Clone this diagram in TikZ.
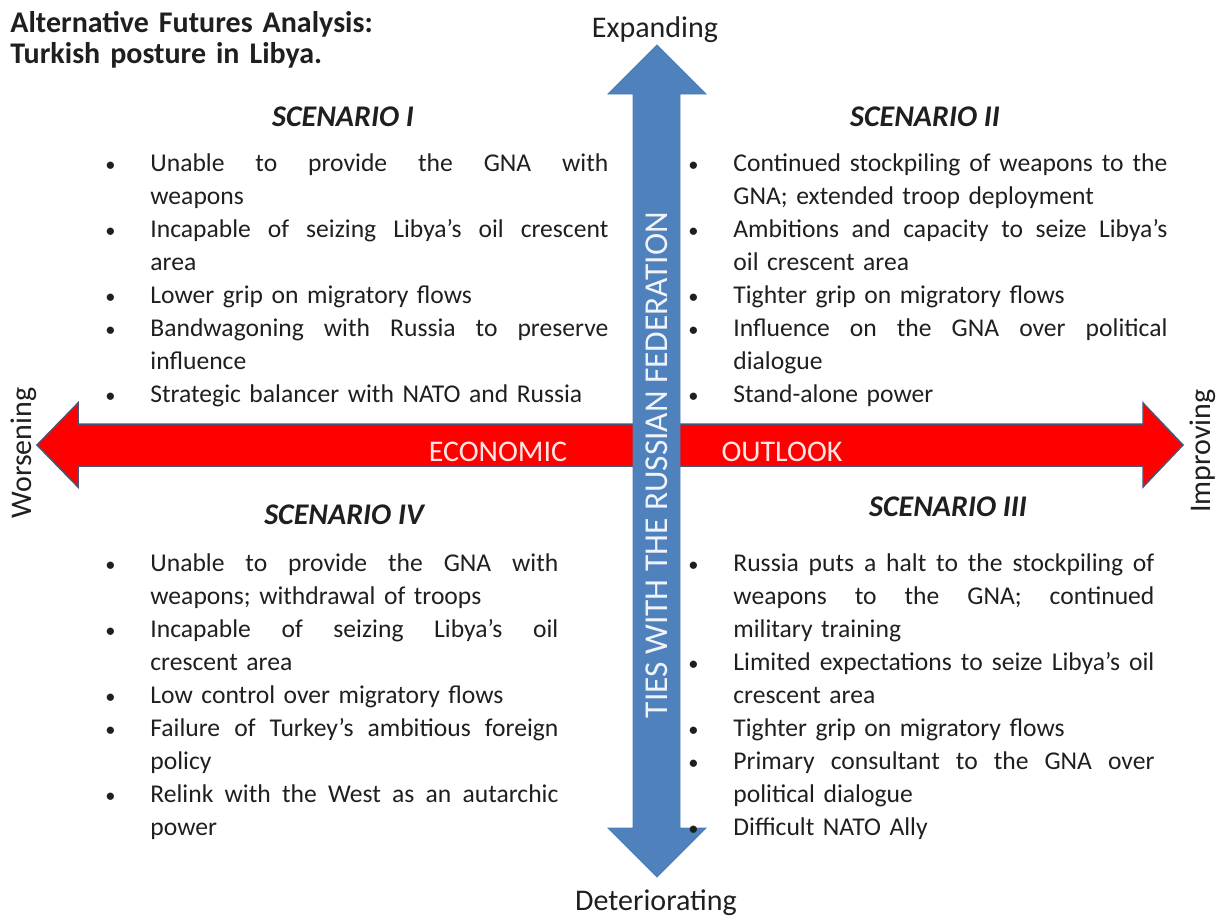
\documentclass[tikz,border=0pt]{standalone}
\usepackage{fontspec}
\setmainfont{Carlito}
\definecolor{axisred}{HTML}{FF0000}
\definecolor{rededge}{HTML}{4B5477}
\definecolor{axisblue}{HTML}{4F81BD}
\definecolor{blueedge}{HTML}{4A7EBB}
\definecolor{bodytext}{HTML}{1F1F1F}
\definecolor{redlabel}{HTML}{FFE6E6}
\definecolor{bluelabel}{HTML}{F0F4FA}
% bullet lists: \bul starts an item, \cnt carries it on, \jl stretches a line to \jw
\newlength{\bulw}
\setlength{\bulw}{20pt}
\newlength{\jw}
\newcommand{\bul}[1]{\noindent\makebox[\bulw][l]{\hspace{-2.5pt}\scalebox{0.8}{\textbullet}}#1\par}
\newcommand{\cnt}[1]{\noindent\hspace*{\bulw}#1\par}
\newcommand{\jl}[1]{\hbox to \jw{\spaceskip=\fontdimen2\font plus 1fil\relax
  \xspaceskip=\spaceskip #1}}
\tikzset{
  redaxis/.style={fill=axisred, draw=rededge, line width=0.75pt, line join=miter},
  blueaxis/.style={fill=axisblue, draw=blueedge, line width=0.4pt},
  axistext/.style={inner sep=0pt, font=\fontsize{15}{18}\selectfont},
  endlabel/.style={inner sep=0pt, text=bodytext, font=\fontsize{15}{18}\selectfont},
  scentitle/.style={inner sep=0pt, text=bodytext, font=\fontsize{15}{18}\selectfont\bfseries\itshape},
  scenlist/.style={anchor=base west, inner sep=0pt, text width=#1, text=bodytext,
    font=\fontsize{12.8}{16.5}\selectfont\setlength{\parskip}{0pt},
    execute at begin node={\setlength{\jw}{\dimexpr#1-\bulw\relax}}}
}

\begin{document}
\begin{tikzpicture}[x=0.5pt, y=-0.5pt]
  \useasboundingbox (0,0) rectangle (1221,918);
  % economic outlook (horizontal)
  \filldraw[redaxis] (37,445) -- (78,403) -- (78,424) -- (1143,424) -- (1143,403) -- (1183,445)
    -- (1143,487) -- (1143,466) -- (78,466) -- (78,487) -- cycle;
  % ties with Russia (vertical)
  \filldraw[blueaxis] (657,45) -- (706,94) -- (680,94) -- (680,828) -- (706,828) -- (657,877)
    -- (608,828) -- (633,828) -- (633,94) -- (608,94) -- cycle;
  \node[axistext, text=redlabel] (economic) at (498,452) {ECONOMIC};
  \node[axistext, text=redlabel] (outlook) at (782,452) {OUTLOOK};
  \node[axistext, text=bluelabel, font=\fontsize{16.7}{19}\selectfont, rotate=90] (ties) at (657,465) {TIES WITH THE RUSSIAN FEDERATION};

  \node[endlabel, anchor=base] (expanding) at (655,37) {Expanding};
  \node[endlabel, anchor=base] (deteriorating) at (656,910) {Deteriorating};
  \node[endlabel, rotate=90] (worsening) at (24,453) {Worsening};
  \node[endlabel, rotate=90] (improving) at (1203,451) {Improving};

  \node[anchor=base west, inner sep=0pt, text width=200pt, text=bodytext,
    font=\fontsize{15}{15.5}\selectfont\bfseries] (title) at (10,32)
    {Alternative Futures Analysis:\\Turkish posture in Libya.};

  \node[scentitle] (scenI) at (343,117) {SCENARIO I};
  \node[scentitle] (scenII) at (925,117) {SCENARIO II};
  \node[scentitle] (scenIII) at (948,507) {SCENARIO III};
  \node[scentitle] (scenIV) at (344,515) {SCENARIO IV};

  \node[scenlist=249pt] (listI) at (110,171) {%
    \bul{\jl{Unable to provide the GNA with}}
    \cnt{weapons}
    \bul{\jl{Incapable of seizing Libya's oil crescent}}
    \cnt{area}
    \bul{Lower grip on migratory flows}
    \bul{\jl{Bandwagoning with Russia to preserve}}
    \cnt{influence}
    \bul{Strategic balancer with NATO and Russia}};
  \node[scenlist=237pt] (listII) at (693,171) {%
    \bul{\jl{Continued stockpiling of weapons to the}}
    \cnt{GNA; extended troop deployment}
    \bul{\jl{Ambitions and capacity to seize Libya's}}
    \cnt{oil crescent area}
    \bul{Tighter grip on migratory flows}
    \bul{\jl{Influence on the GNA over political}}
    \cnt{dialogue}
    \bul{Stand-alone power}};
  \node[scenlist=230.5pt] (listIII) at (693,571) {%
    \bul{\jl{Russia puts a halt to the stockpiling of}}
    \cnt{\jl{weapons to the GNA; continued}}
    \cnt{military training}
    \bul{\jl{Limited expectations to seize Libya's oil}}
    \cnt{crescent area}
    \bul{Tighter grip on migratory flows}
    \bul{\jl{Primary consultant to the GNA over}}
    \cnt{political dialogue}
    \bul{Difficult NATO Ally}};
  \node[scenlist=224pt] (listIV) at (110,571) {%
    \bul{\jl{Unable to provide the GNA with}}
    \cnt{weapons; withdrawal of troops}
    \bul{\jl{Incapable of seizing Libya's oil}}
    \cnt{crescent area}
    \bul{Low control over migratory flows}
    \bul{\jl{Failure of Turkey's ambitious foreign}}
    \cnt{policy}
    \bul{\jl{Relink with the West as an autarchic}}
    \cnt{power}};
\end{tikzpicture}
\end{document}
